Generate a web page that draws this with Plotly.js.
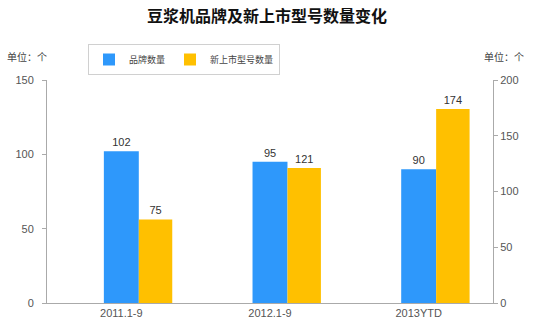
<!DOCTYPE html>
<html><head><meta charset="utf-8">
<script src="https://cdn.plot.ly/plotly-3.0.1.min.js"></script>
<style>html,body{margin:0;padding:0;background:#fff}#c{width:534px;height:327px}</style>
</head><body><div id="c"></div>
<script>
var categories = ["2011.1-9", "2012.1-9", "2013YTD"];
var brandCounts = [102, 95, 90];
var newModelCounts = [75, 121, 174];
var seriesNames = ["品牌数量", "新上市型号数量"];
var leftTicks = [0, 50, 100, 150];
var rightTicks = [0, 50, 100, 150, 200];

var lblFont = {family: "Liberation Sans, Arial, sans-serif", size: 11, color: "#333"};
var traces = [
  {type: "bar", x: categories, y: brandCounts, name: seriesNames[0],
   marker: {color: "#2E98FB"}, width: 0.235, offset: -0.1175,
   text: brandCounts.map(String), textposition: "outside", textfont: lblFont, cliponaxis: false,
   yaxis: "y"},
  {type: "bar", x: categories, y: newModelCounts, name: seriesNames[1],
   marker: {color: "#FFC000"}, width: 0.225, offset: 0.1175,
   text: newModelCounts.map(String), textposition: "outside", textfont: lblFont, cliponaxis: false,
   yaxis: "y2"}
];
var tickFont = {family: "Liberation Sans, Arial, sans-serif", size: 11, color: "#555"};
var layout = {
  width: 534, height: 327,
  margin: {l: 47, r: 41, t: 80, b: 24},
  paper_bgcolor: "#fff", plot_bgcolor: "#fff",
  showlegend: true,
  legend: {orientation: "h", x: 41/446, xanchor: "left", y: 1 + 36/223, yanchor: "top",
           bordercolor: "#d0d0d0", borderwidth: 1, font: {family: "Noto Sans CJK SC", size: 9, color: "#444"},
           itemwidth: 30, tracegroupgap: 0},
  title: {text: "<b>豆浆机品牌及新上市型号数量变化</b>", x: 0.5, xanchor: "center", y: 1 - 16/327, yanchor: "middle",
          font: {family: "Noto Sans CJK SC", size: 16, color: "#111"}},
  xaxis: {type: "category", tickfont: tickFont, showline: true, linecolor: "#aaa", linewidth: 1,
          ticks: "", showgrid: false, fixedrange: true},
  yaxis: {range: [0, 150], tickvals: leftTicks, tickfont: tickFont, showline: true, linecolor: "#aaa",
          ticks: "outside", ticklen: 4, tickcolor: "#aaa", showgrid: false, zeroline: false, ticklabelstandoff: 6},
  yaxis2: {range: [0, 200], tickvals: rightTicks, tickfont: tickFont, overlaying: "y", side: "right",
           showline: true, linecolor: "#aaa", ticks: "outside", ticklen: 4, tickcolor: "#aaa",
           showgrid: false, zeroline: false},
  annotations: [
    {text: "单位：个", xref: "paper", yref: "paper", x: -42/446, xanchor: "left", y: 1 + 23/223, yanchor: "middle",
     showarrow: false, font: {family: "Noto Sans CJK SC", size: 10, color: "#444"}},
    {text: "单位：个", xref: "paper", yref: "paper", x: 1 + 33/446, xanchor: "right", y: 1 + 23/223, yanchor: "middle",
     showarrow: false, font: {family: "Noto Sans CJK SC", size: 10, color: "#444"}}
  ]
};
Plotly.newPlot("c", traces, layout, {displayModeBar: false, staticPlot: true});
</script></body></html>
